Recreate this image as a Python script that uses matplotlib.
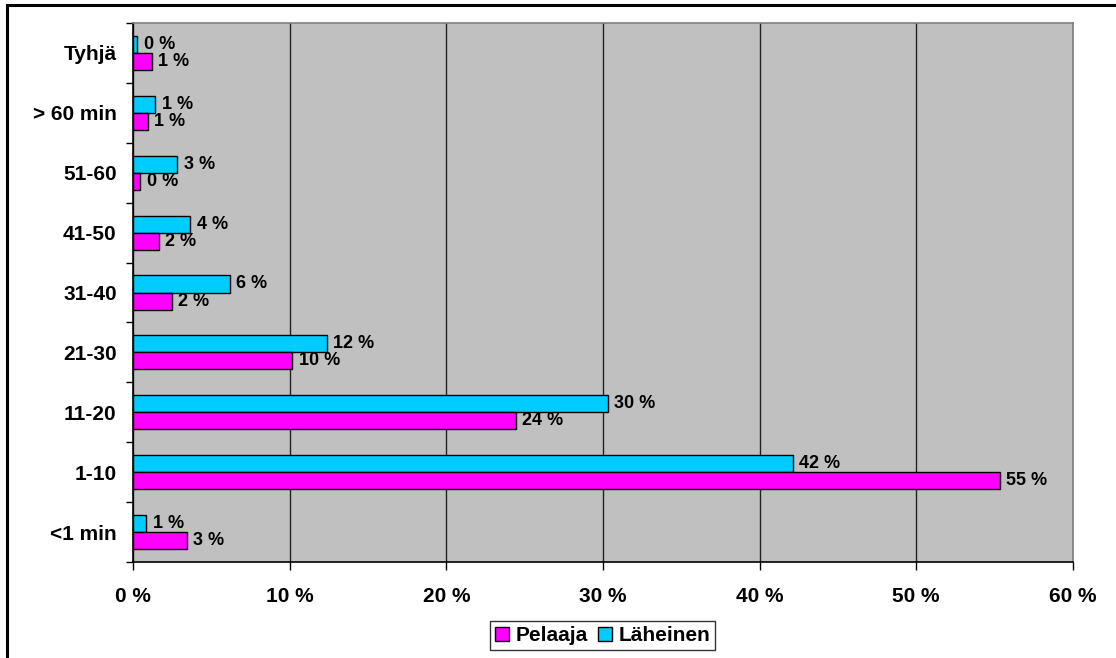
import matplotlib

matplotlib.use("Agg")
import matplotlib.pyplot as plt
import numpy as np
from matplotlib.lines import Line2D
from matplotlib.patches import Patch

# Categories listed bottom-to-top
categories = ["<1 min", "1-10", "11-20", "21-30", "31-40", "41-50", "51-60", "> 60 min", "Tyhjä"]
pelaaja = [3.4, 55.35, 24.45, 10.15, 2.45, 1.64, 0.45, 0.94, 1.19]
laheinen = [0.83, 42.15, 30.3, 12.36, 6.17, 3.64, 2.81, 1.40, 0.26]
x_ticks = [0, 10, 20, 30, 40, 50, 60]

plt.rcParams["font.family"] = ["Liberation Sans", "DejaVu Sans"]
plt.rcParams["font.weight"] = "bold"

MAGENTA = "#FF00FF"
CYAN = "#00CCFF"

fig = plt.figure(figsize=(11.16, 6.58), dpi=100)
ax = fig.add_axes([0.1195, 0.1459, 0.9612 - 0.1195, 0.965 - 0.1459])
ax.set_facecolor("#C0C0C0")

y = np.arange(len(categories))
h = 0.285
bars_l = ax.barh(y + h / 2, laheinen, height=h, color=CYAN, edgecolor="black", linewidth=1.0, zorder=3)
bars_p = ax.barh(y - h / 2, pelaaja, height=h, color=MAGENTA, edgecolor="black", linewidth=1.0, zorder=3)

for bars, vals in ((bars_l, laheinen), (bars_p, pelaaja)):
    for bar, v in zip(bars, vals):
        ax.annotate(
            f"{round(v):.0f} %",
            (bar.get_width(), bar.get_y() + bar.get_height() / 2),
            xytext=(4.5, 0),
            textcoords="offset points",
            ha="left",
            va="center",
            fontsize=13,
            fontweight="bold",
            zorder=4,
        )

ax.set_xlim(0, 60)
ax.set_ylim(-0.5, len(categories) - 0.5)
ax.set_xticks(x_ticks)
ax.set_xticklabels([f"{t} %" for t in x_ticks], fontsize=15, fontweight="bold")
ax.set_yticks(np.arange(len(categories) + 1) - 0.5, minor=False)
ax.set_yticklabels([])
ax.set_yticks(y, minor=True)
ax.set_yticklabels(categories, minor=True, fontsize=15, fontweight="bold")
ax.tick_params(axis="y", which="minor", length=0, pad=12)
ax.tick_params(axis="y", which="major", length=5, width=1, direction="out")
ax.tick_params(axis="x", length=6, width=1, direction="out", pad=12)

ax.set_axisbelow(True)
ax.xaxis.grid(True, color="#222222", linewidth=1.0)
ax.yaxis.grid(False)

ax.spines["left"].set_color("black")
ax.spines["bottom"].set_color("black")
ax.spines["top"].set_color("#808080")
ax.spines["right"].set_color("#808080")
for s in ax.spines.values():
    s.set_linewidth(1.2)

handles = [
    Patch(facecolor=MAGENTA, edgecolor="black", linewidth=1.0, label="Pelaaja"),
    Patch(facecolor=CYAN, edgecolor="black", linewidth=1.0, label="Läheinen"),
]
leg = fig.legend(
    handles=handles,
    loc="center",
    bbox_to_anchor=(0.540, 0.034),
    ncol=2,
    fontsize=15,
    frameon=True,
    fancybox=False,
    edgecolor="black",
    handlelength=0.67,
    handleheight=0.67,
    handletextpad=0.3,
    columnspacing=0.5,
    borderpad=0.25,
    borderaxespad=0,
)
leg.get_frame().set_linewidth(1.0)
for t in leg.get_texts():
    t.set_fontweight("bold")

# figure border (left and top visible)
fig.add_artist(Line2D([7 / 1116, 7 / 1116], [0, 1 - 4.5 / 658], transform=fig.transFigure, color="black", lw=2.2))
fig.add_artist(Line2D([7 / 1116, 1], [1 - 4.5 / 658, 1 - 4.5 / 658], transform=fig.transFigure, color="black", lw=2.2))

fig.savefig("out.png", dpi=100)
